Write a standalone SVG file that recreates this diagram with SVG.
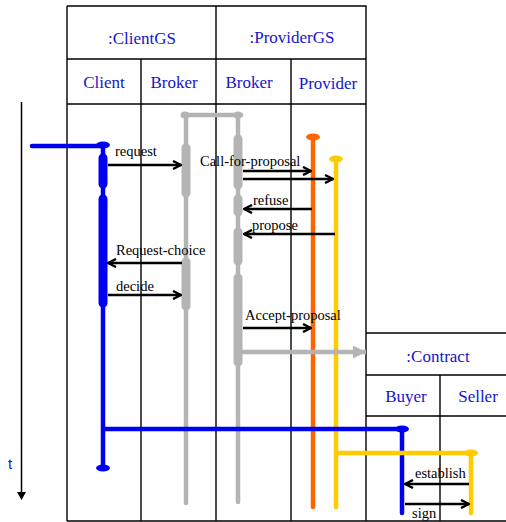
<svg xmlns="http://www.w3.org/2000/svg" width="506" height="522" viewBox="0 0 506 522">
<style>
.grid{stroke:#000;stroke-width:1.4;fill:none}
.hd{font-family:"Liberation Serif",serif;font-size:17px;fill:#1515CC;text-anchor:middle}
.lb{font-family:"Liberation Serif",serif;font-size:14.5px;fill:#000}
.msg{stroke:#000;stroke-width:2.6;fill:none}
.blue{stroke:#0000F0}
.gray{stroke:#B4B4B4}
.org{stroke:#FF6600}
.yel{stroke:#FFCC00}
.life{stroke-width:4.5;fill:none;stroke-linecap:round}
.act{stroke-width:9;fill:none;stroke-linecap:round}
</style>
<defs>
<marker id="ah" viewBox="0 0 10 10" refX="9" refY="5" markerWidth="10" markerHeight="10" markerUnits="userSpaceOnUse" orient="auto">
<path d="M1,1 L9,5 L1,9" fill="none" stroke="#000" stroke-width="2.4"/>
</marker>
<marker id="gh" viewBox="0 0 12 12" refX="12" refY="6" markerWidth="13" markerHeight="13" markerUnits="userSpaceOnUse" orient="auto">
<path d="M0,0 L12,6 L0,12 Z" fill="#B4B4B4"/>
</marker>
</defs>
<rect width="506" height="522" fill="#fff"/>
<g id="table">
<path class="grid" d="M67,6 H366 V333 M67,6 V521 M67,59 H366 M67,104 H366 M216,6 V521 M141,59 V521 M291,59 V521 M67,521 H366 V521"/>
<path class="grid" d="M366,333 H506 M366,333 V521 M366,375 H506 M366,416 H506 M440,375 V521 M366,521 H506"/>
<text class="hd" x="142" y="44">:ClientGS</text>
<text class="hd" x="292" y="43">:ProviderGS</text>
<text class="hd" x="104" y="88">Client</text>
<text class="hd" x="174" y="88">Broker</text>
<text class="hd" x="249" y="88">Broker</text>
<text class="hd" x="328" y="89">Provider</text>
<text class="hd" x="438" y="362">:Contract</text>
<text class="hd" x="406" y="402">Buyer</text>
<text class="hd" x="478" y="402">Seller</text>
</g>
<g id="timeaxis">
<line x1="21.5" y1="102" x2="21.5" y2="493" stroke="#000" stroke-width="1.5"/>
<path d="M17,492 L26,492 L21.5,500 Z" fill="#000"/>
<text x="8" y="469" font-family="Liberation Sans,sans-serif" font-size="15" fill="#1515CC">t</text>
</g>
<g id="client">
<path class="blue life" d="M32,146 H103 V468"/>
<ellipse cx="103" cy="145" rx="7" ry="3.5" fill="#0000F0"/>
<ellipse cx="103" cy="468" rx="7" ry="3.5" fill="#0000F0"/>
<path class="blue act" stroke-width="8" d="M103,158 V184 M103,199 V303"/>
</g>
<g id="clientbroker">
<path class="gray life" d="M186,116 V503"/>
<path class="gray life" d="M183,115 H241"/>
<ellipse cx="185" cy="115" rx="4.5" ry="3.5" fill="#B4B4B4"/>
<ellipse cx="238" cy="115" rx="4.5" ry="3.5" fill="#B4B4B4"/>
<path class="gray act" d="M186,148 V193 M186,262 V306"/>
</g>
<g id="providerbroker">
<path class="gray life" d="M238,116 V502"/>
<path class="gray act" d="M238,139 V185 M238,199 V212 M238,232 V261 M238,278 V362"/>
</g>
<g id="provider">
<path class="org life" d="M313,137 V507"/>
<ellipse cx="313" cy="137" rx="7" ry="3.5" fill="#FF6600"/>
</g>
<g id="provider2">
<path class="yel life" d="M336,159 V507"/>
<ellipse cx="336" cy="159" rx="7" ry="3.5" fill="#FFCC00"/>
</g>
<g id="buyer">
<path class="blue life" d="M103,429 H402 V513"/>
<ellipse cx="402" cy="429" rx="7" ry="3.5" fill="#0000F0"/>
</g>
<g id="seller">
<path class="yel life" d="M336,453 H471 V513"/>
<ellipse cx="471" cy="453" rx="7" ry="3.5" fill="#FFCC00"/>
</g>
<g id="connectors">
<line class="msg" x1="108" y1="165" x2="181" y2="165" marker-end="url(#ah)"/>
<line class="msg" x1="243" y1="171" x2="311" y2="171" marker-end="url(#ah)"/>
<line class="msg" x1="243" y1="179" x2="333" y2="179" marker-end="url(#ah)"/>
<line class="msg" x1="312" y1="209" x2="244" y2="209" marker-end="url(#ah)"/>
<line class="msg" x1="335" y1="234" x2="244" y2="234" marker-end="url(#ah)"/>
<line class="msg" x1="182" y1="263" x2="108" y2="263" marker-end="url(#ah)"/>
<line class="msg" x1="108" y1="295" x2="181" y2="295" marker-end="url(#ah)"/>
<line class="msg" x1="243" y1="328" x2="311" y2="328" marker-end="url(#ah)"/>
<line x1="242" y1="352" x2="366" y2="352" stroke="#B4B4B4" stroke-width="4.5" marker-end="url(#gh)"/>
<line class="msg" x1="469" y1="484" x2="405" y2="484" marker-end="url(#ah)"/>
<line class="msg" x1="405" y1="504" x2="469" y2="504" marker-end="url(#ah)"/>
<text class="lb" x="115" y="156">request</text>
<text class="lb" x="200" y="166">Call-for-proposal</text>
<text class="lb" x="253" y="205">refuse</text>
<text class="lb" x="252" y="230">propose</text>
<text class="lb" x="116" y="255">Request-choice</text>
<text class="lb" x="116" y="291">decide</text>
<text class="lb" x="245" y="320">Accept-proposal</text>
<text class="lb" x="415" y="478">establish</text>
<text class="lb" x="412" y="518">sign</text>
</g>
</svg>
